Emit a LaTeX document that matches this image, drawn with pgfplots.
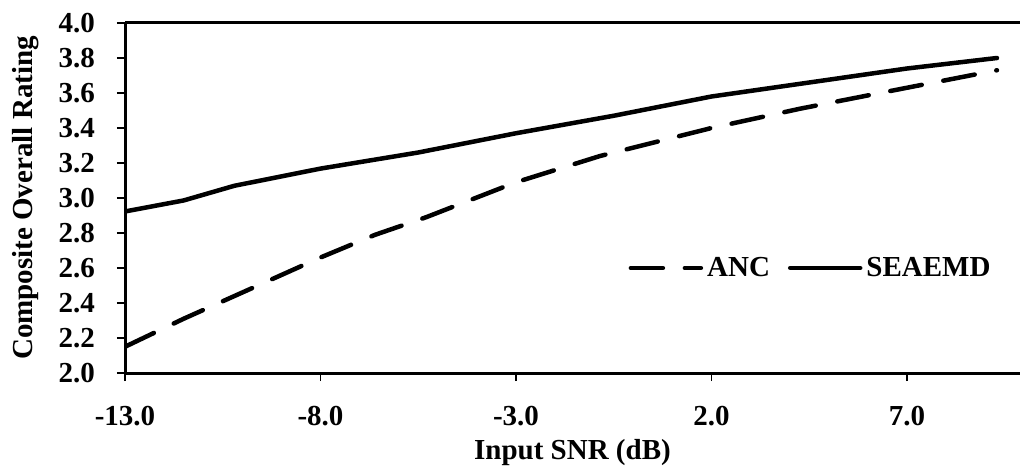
\documentclass[border=0pt]{standalone}
\usepackage{fontspec}
\setmainfont{Liberation Serif}
\usepackage{pgfplots}
\pgfplotsset{compat=1.18}
\usetikzlibrary{calc}
\newcommand{\chartfont}{\fontsize{14.5}{17}\selectfont\bfseries}
\begin{document}
\begin{tikzpicture}
\begin{axis}[name=ax, scale only axis, width=447.5pt, height=175pt,
  xmin=-13, xmax=9.89, ymin=2, ymax=4,
  axis x line*=box, axis y line*=left,
  axis line style={line width=1.5pt,-},
  xtick={-13,-8,-3,2,7},
  ytick={2,2.2,2.4,2.6,2.8,3,3.2,3.4,3.6,3.8,4},
  tick pos=left, tick align=outside, major tick length=4pt,
  tick style={line width=0.6pt,black},
  /pgf/number format/.cd, fixed, fixed zerofill, precision=1, assume math mode=true,
  /pgfplots/.cd,
  ticklabel style={font=\chartfont},
  xticklabel shift=9pt, yticklabel shift=7.5pt,
  xlabel={Input SNR (dB)}, ylabel={Composite Overall Rating},
  xlabel style={font=\chartfont, at={(axis description cs:0.5,-0.246)}, anchor=base, inner sep=0pt},
  ylabel style={font=\chartfont, at={(axis description cs:-0.126,0.5)}, anchor=north, inner sep=0pt, rotate=0},
  legend columns=2,
  legend style={draw=none, fill=none, font=\chartfont, inner sep=0pt,
    at={(rel axis cs:0.972,0.30)}, anchor=east,
    /tikz/every even column/.append style={column sep=7pt}},
  legend image code/.code={\draw[#1] (0pt,0pt) -- (35pt,0pt);},
]
\addplot[black, no markers, line width=2.25pt, line cap=round, dash pattern=on 16pt off 11pt] coordinates {
  (-13,2.15) (-11.5,2.31) (-9.7,2.49) (-8,2.66) (-6.6,2.79) (-5.3,2.89)
  (-3,3.09) (-0.85,3.24) (2,3.40) (4.26,3.51) (7,3.63) (9.3,3.73)};
\addlegendentry{ANC}
\addplot[black, no markers, line width=2.25pt, line cap=round, solid] coordinates {
  (-13,2.923) (-11.5,2.986) (-10.2,3.07) (-8,3.168) (-5.5,3.26) (-3,3.37)
  (-0.5,3.47) (2,3.58) (4.5,3.66) (7,3.74) (9.3,3.80)};
\addlegendentry{SEAEMD}
\end{axis}
\pgfresetboundingbox
\path[use as bounding box] ($(ax.south west)+(-62.5pt,-46.5pt)$) rectangle ($(ax.north east)+(0pt,11.5pt)$);
\end{tikzpicture}
\end{document}
